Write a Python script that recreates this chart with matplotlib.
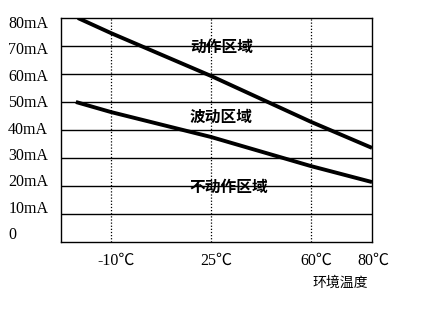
import matplotlib.pyplot as plt
import matplotlib.transforms as mtransforms

# data
temp_ticks = [-10, 25, 60, 80]
temp_labels = ['-10℃', '25℃', '60℃', '80℃']
current_ticks = [0, 10, 20, 30, 40, 50, 60, 70, 80]
current_labels = ['0', '10mA', '20mA', '30mA', '40mA', '50mA', '60mA', '70mA', '80mA']

upper_x = [-21.6, -10, 25, 60, 81.35]
upper_y = [80, 74.6, 59.3, 42.9, 33.6]
lower_x = [-22.3, -10, 25, 60, 81.35]
lower_y = [50, 46.4, 37.5, 27.1, 21.4]

zone_names = ['动作区域', '波动区域', '不动作区域']
zone_y = [69.6, 44.6, 19.6]
zone_x = 17.6

serif = ['Liberation Serif', 'Noto Sans CJK SC']
cjk = ['Noto Sans CJK SC', 'DejaVu Sans']

fig = plt.figure(figsize=(4.3, 3.19), dpi=100)
ax = fig.add_axes([0.1419, 0.2414, 0.7233, 0.7022])

ax.set_xlim(-27.5, 81.35)
ax.set_ylim(0, 80)

# grid
for v in current_ticks[1:-1]:
    ax.axhline(v, color='black', lw=1.0, zorder=1)
for t in temp_ticks[:-1]:
    ax.axvline(t, color='black', lw=0.9, ls=(0, (1, 1.5)), zorder=1)

ax.plot(upper_x, upper_y, color='black', lw=2.8, solid_capstyle='butt', zorder=3)
ax.plot(lower_x, lower_y, color='black', lw=2.8, solid_capstyle='butt', zorder=3)

for name, y in zip(zone_names, zone_y):
    ax.text(zone_x, y, name, family=cjk, fontsize=11.3, fontweight='bold',
            ha='left', va='center', zorder=4)

for sp in ax.spines.values():
    sp.set_color('black')
    sp.set_linewidth(1.0)

ax.tick_params(length=0)
ax.set_xticks(temp_ticks)
ax.set_xticklabels(temp_labels, family=serif, fontsize=11.5)
ax.tick_params(axis='x', pad=8)
for lab in ax.get_xticklabels():
    lab.set_transform(lab.get_transform() + mtransforms.ScaledTranslation(5 / 100, 0, fig.dpi_scale_trans))

ax.set_yticks(current_ticks)
ax.set_yticklabels(current_labels, family=serif, fontsize=11.5, ha='left')
ax.tick_params(axis='y', pad=38)
# labels are spaced a bit tighter than the grid in the original
for v, lab in zip(current_ticks, ax.get_yticklabels()):
    dy = -(4 - (80 - v) / 10 * 1.6) / 100
    lab.set_transform(lab.get_transform() + mtransforms.ScaledTranslation(0, dy, fig.dpi_scale_trans))

fig.text(340 / 430, 1 - 283 / 319, '环境温度', family=cjk, fontsize=10,
         ha='center', va='center')

fig.savefig('out.png', dpi=100)
